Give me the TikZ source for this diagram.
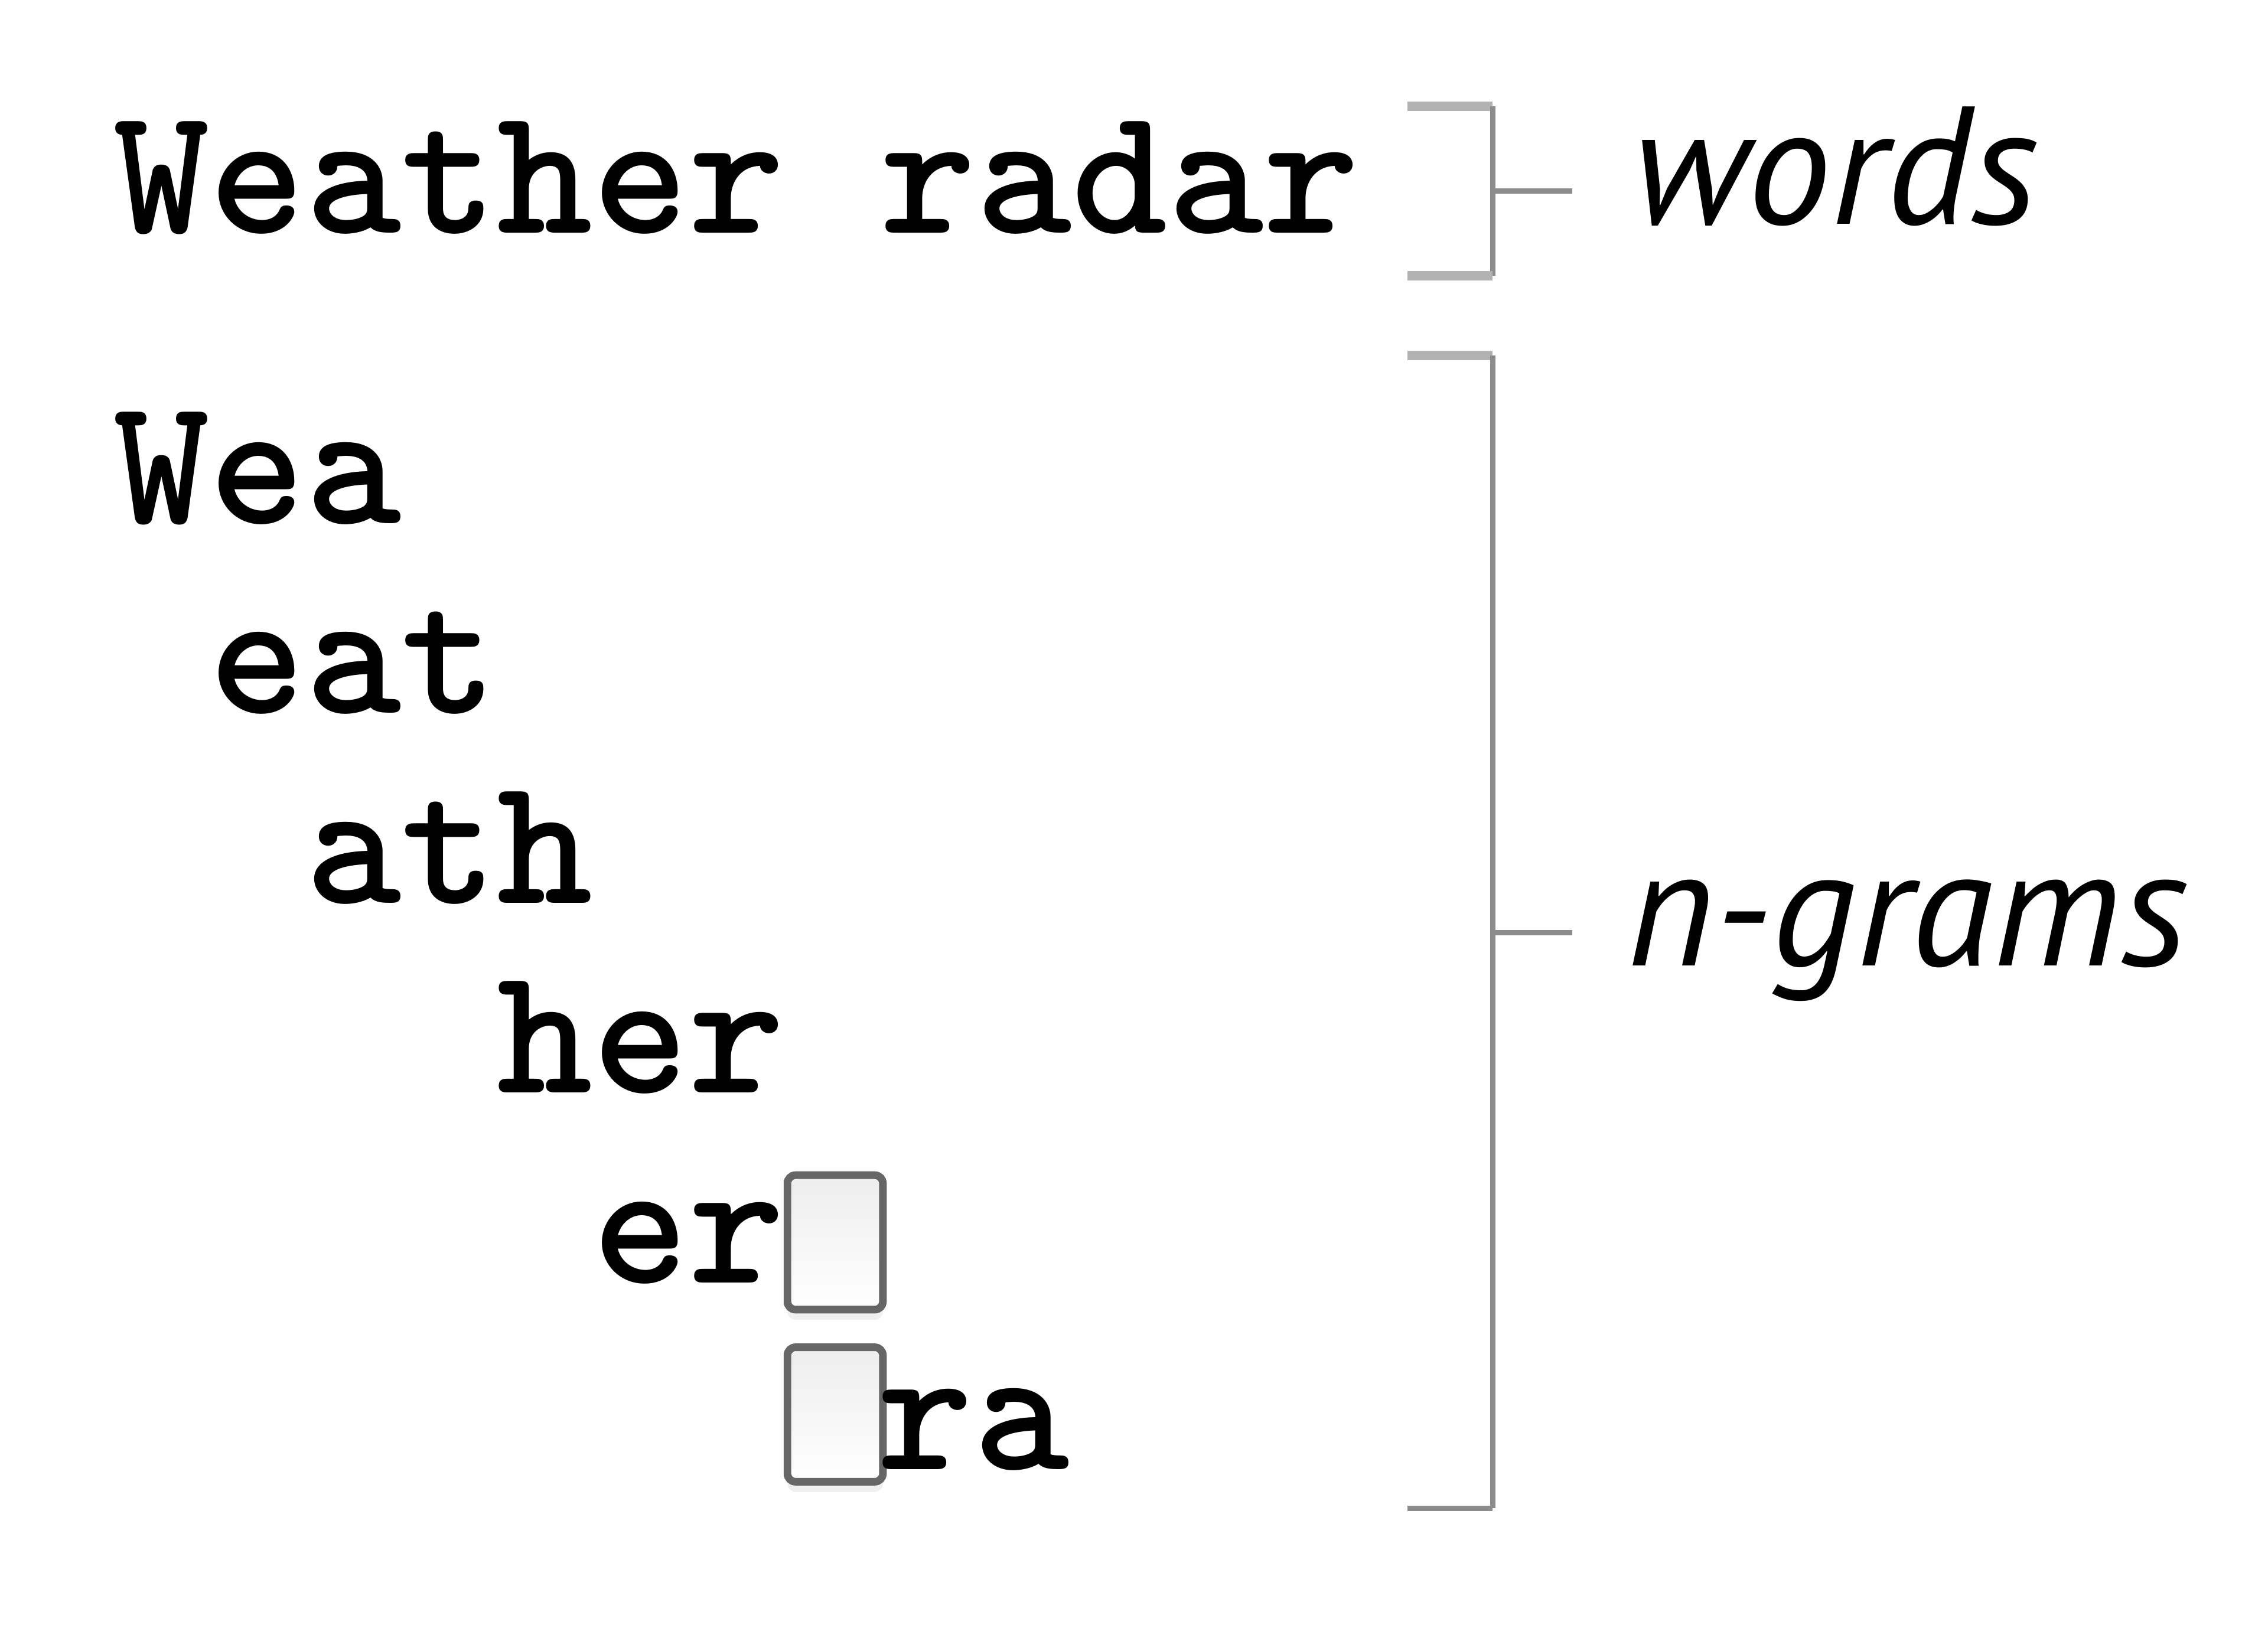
\documentclass[tikz,border=0pt]{standalone}
\usepackage{fontspec}
\newfontfamily\tagfont{PT Sans}
\usetikzlibrary{positioning}
\usetikzlibrary{shadows}

\tikzset{
  gram/.style={inner sep=0pt, anchor=base west,
    font=\fontsize{35.9}{40}\selectfont\ttfamily\bfseries},
  tag/.style={inner sep=0pt, anchor=base west,
    font=\fontsize{33}{36}\selectfont\tagfont\itshape},
  spacebox/.style={draw=black!60, line width=1.5pt, rounded corners=1.6pt,
    top color=black!7, bottom color=white, inner sep=0pt,
    minimum width=0.66cm, minimum height=0.93cm, anchor=north west,
    drop shadow={shadow xshift=0pt, shadow yshift=-0.07cm, opacity=0.12}},
  brace/.style={draw=black!45, line width=1.1pt},
  bracetop/.style={draw=black!30, line width=1.8pt},
}

\begin{document}
\begin{tikzpicture}
  \useasboundingbox (0,0) rectangle (15.68,-11.237);
  % the two words
  \node [gram] (weather) at (0.78,-1.61) {Weather radar};
  % the 3-grams, one per line
  \node [gram] (wea) at (0.78,-3.62) {Wea};
  \node [gram] (eat) at (1.4425,-4.9325) {eat};
  \node [gram] (ath) at (2.105,-6.245) {ath};
  \node [gram] (her) at (3.43,-7.5575) {her};
  \node [gram] (er) at (4.0925,-8.87) {er};
  \node [spacebox] (gap1) at (5.4175,-8.10) {};
  \node [spacebox] (gap2) at (5.4175,-9.29) {};
  \node [gram] (ra) at (6.06,-10.16) {ra};
  % brackets
  \draw [bracetop] (9.73,-0.735) -- (10.32,-0.735);
  \draw [brace] (10.32,-0.735) -- (10.32,-1.906);
  \draw [bracetop] (9.73,-1.906) -- (10.32,-1.906);
  \draw [brace] (10.32,-1.32) -- (10.87,-1.32);
  \node [tag] (words) at (11.28,-1.55) {words};
  \draw [bracetop] (9.73,-2.458) -- (10.32,-2.458);
  \draw [brace] (10.32,-2.458) -- (10.32,-10.43);
  \draw [brace] (9.73,-10.43) -- (10.32,-10.43);
  \draw [brace] (10.32,-6.45) -- (10.87,-6.45);
  \node [tag] (ngrams) at (11.24,-6.68) {n-grams};
\end{tikzpicture}
\end{document}
